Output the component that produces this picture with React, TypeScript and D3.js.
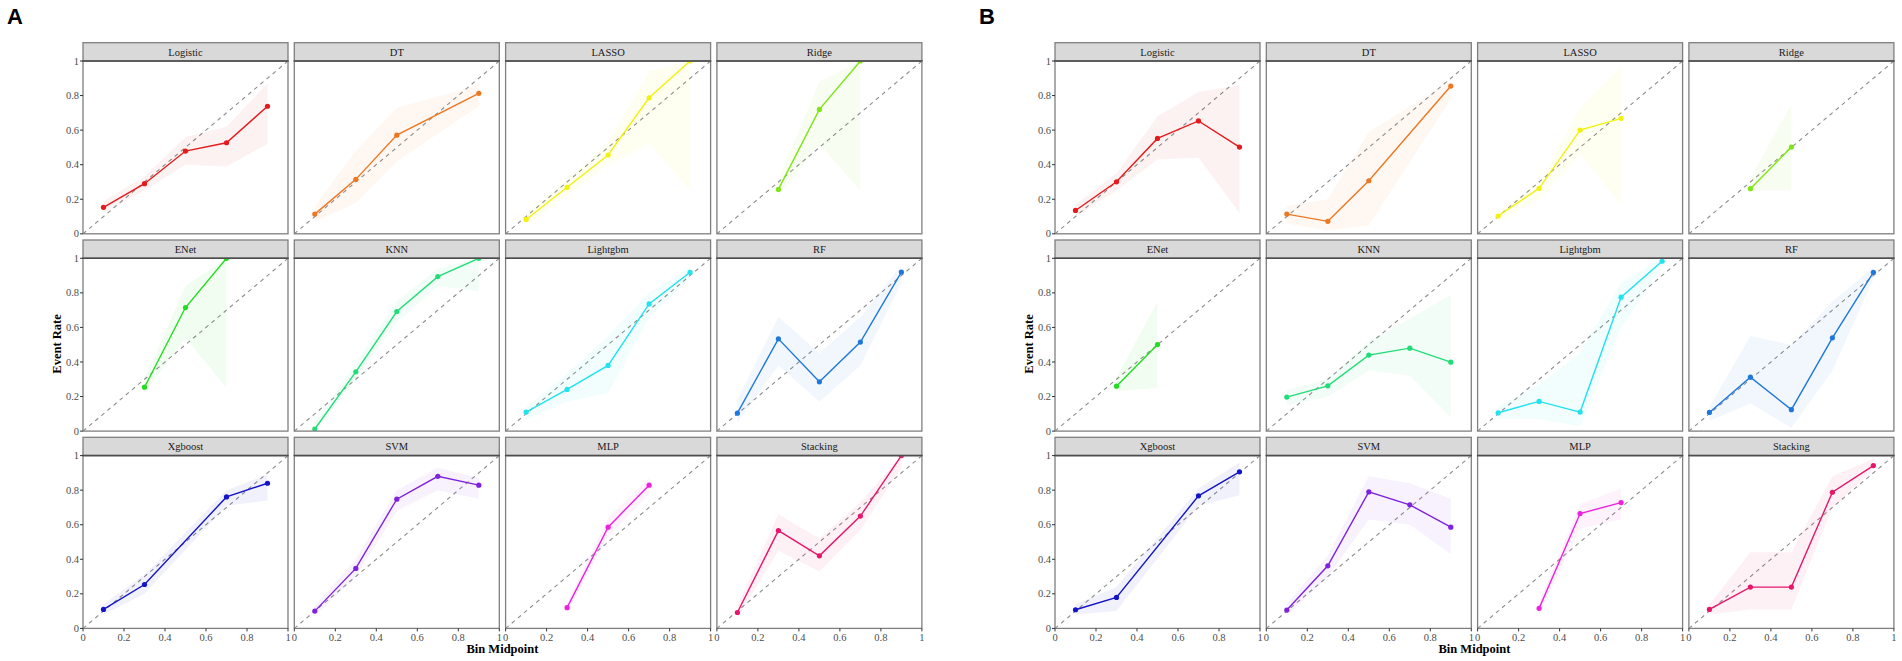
import React from "react";
import * as d3 from "d3";

const models = ["Logistic", "DT", "LASSO", "Ridge", "ENet", "KNN", "Lightgbm", "RF", "Xgboost", "SVM", "MLP", "Stacking"];
const colors = ["#E41A1C", "#EE7722", "#F2F20F", "#7FE517", "#22DD22", "#22DD77", "#22E2EE", "#1E78DC", "#1414C8", "#7F22DD", "#EE22DD", "#E6166B"];
const bins = [0.1, 0.3, 0.5, 0.7, 0.9];
const ticks = [0, 0.2, 0.4, 0.6, 0.8, 1];
const tickLabels = ["0", "0.2", "0.4", "0.6", "0.8", "1"];

type V = number | null;

// panel A: event rate per bin, ribbon low / high
const rateA: V[][] = [
  [0.153, 0.29, 0.479, 0.527, 0.738],
  [0.114, 0.315, 0.571, null, 0.813],
  [0.083, 0.269, 0.456, 0.787, 1.0],
  [null, 0.257, 0.72, 1.0, null],
  [null, 0.254, 0.715, 1.0, null],
  [0.012, 0.343, 0.692, 0.894, 1.0],
  [0.11, 0.241, 0.38, 0.736, 0.919],
  [0.104, 0.534, 0.285, 0.515, 0.92],
  [0.11, 0.254, null, 0.761, 0.84],
  [0.1, 0.347, 0.748, 0.88, 0.829],
  [null, 0.12, 0.586, 0.829, null],
  [0.092, 0.566, 0.42, 0.65, 1.0],
];
const lowA: V[][] = [
  [0.12, 0.25, 0.4, 0.39, 0.52],
  [0.07, 0.18, 0.42, null, 0.74],
  [0.05, 0.22, 0.4, 0.52, 0.25],
  [null, 0.22, 0.52, 0.25, null],
  [null, 0.22, 0.54, 0.25, null],
  [0.0, 0.3, 0.63, 0.84, 0.81],
  [0.07, 0.17, 0.22, 0.66, 0.88],
  [0.05, 0.38, 0.17, 0.38, 0.86],
  [0.08, 0.2, null, 0.71, 0.74],
  [0.07, 0.3, 0.68, 0.8, 0.75],
  [null, 0.09, 0.53, 0.78, null],
  [0.06, 0.45, 0.33, 0.57, 0.93],
];
const highA: V[][] = [
  [0.19, 0.33, 0.56, 0.62, 0.87],
  [0.16, 0.48, 0.73, null, 0.86],
  [0.12, 0.31, 0.53, 0.94, 1.0],
  [null, 0.31, 0.88, 1.0, null],
  [null, 0.3, 0.84, 1.0, null],
  [0.05, 0.39, 0.75, 0.94, 1.0],
  [0.14, 0.33, 0.55, 0.8, 0.95],
  [0.18, 0.66, 0.45, 0.66, 0.96],
  [0.14, 0.31, null, 0.8, 0.89],
  [0.13, 0.4, 0.8, 0.93, 0.87],
  [null, 0.15, 0.64, 0.87, null],
  [0.13, 0.66, 0.52, 0.73, 1.0],
];

// panel B
const rateB: V[][] = [
  [0.135, 0.301, 0.552, 0.653, 0.502],
  [0.114, 0.072, 0.307, null, 0.855],
  [0.103, 0.263, 0.6, 0.668, null],
  [null, 0.261, 0.502, null, null],
  [null, 0.26, 0.501, null, null],
  [0.197, 0.262, 0.44, 0.48, 0.399],
  [0.106, 0.172, 0.11, 0.775, 0.983],
  [0.108, 0.312, 0.124, 0.54, 0.919],
  [0.108, 0.179, null, 0.767, 0.906],
  [0.106, 0.362, 0.79, 0.715, 0.586],
  [null, 0.116, 0.665, 0.728, null],
  [0.11, 0.239, 0.239, 0.788, 0.942],
];
const lowB: V[][] = [
  [0.1, 0.25, 0.43, 0.44, 0.12],
  [0.06, 0.02, 0.05, null, 0.78],
  [0.07, 0.2, 0.46, 0.17, null],
  [null, 0.25, 0.25, null, null],
  [null, 0.23, 0.25, null, null],
  [0.15, 0.2, 0.35, 0.32, 0.08],
  [0.07, 0.07, 0.03, 0.6, 0.95],
  [0.06, 0.16, 0.02, 0.35, 0.88],
  [0.08, 0.1, null, 0.71, 0.77],
  [0.07, 0.3, 0.63, 0.6, 0.43],
  [null, 0.08, 0.58, 0.63, null],
  [0.08, 0.11, 0.11, 0.7, 0.92],
];
const highB: V[][] = [
  [0.17, 0.35, 0.68, 0.82, 0.86],
  [0.16, 0.2, 0.59, null, 0.88],
  [0.13, 0.29, 0.73, 0.97, null],
  [null, 0.32, 0.75, null, null],
  [null, 0.31, 0.75, null, null],
  [0.24, 0.3, 0.52, 0.65, 0.79],
  [0.14, 0.27, 0.45, 0.86, 1.0],
  [0.14, 0.55, 0.5, 0.75, 0.95],
  [0.14, 0.24, null, 0.81, 0.96],
  [0.14, 0.42, 0.88, 0.84, 0.75],
  [null, 0.15, 0.72, 0.81, null],
  [0.14, 0.44, 0.44, 0.88, 0.98],
];

const colW = 205;
const colStep = 211.3;
const stripH = 18.3;
const plotH = 172.8;
const rowTops = [42.7, 240, 437.3];
const serif = "'Liberation Serif', 'Times New Roman', serif";

interface PanelProps {
  left: number;
  label: string;
  rate: V[][];
  low: V[][];
  high: V[][];
}

function Facet({ i, left, rate, low, high }: { i: number; left: number; rate: V[]; low: V[]; high: V[] }) {
  const c = i % 4;
  const r = Math.floor(i / 4);
  const x0 = left + c * colStep;
  const top = rowTops[r] + stripH;
  const x = d3.scaleLinear().domain([0, 1]).range([x0, x0 + colW]);
  const y = d3.scaleLinear().domain([0, 1]).range([top + plotH, top]);
  const pts = bins.map((b, k) => ({ b, v: rate[k], lo: low[k], hi: high[k] })).filter((d) => d.v !== null);
  const band = pts.filter((d) => d.lo !== null && d.hi !== null);
  const area = d3.area<any>().x((d) => x(d.b)).y0((d) => y(d.lo)).y1((d) => y(d.hi));
  const line = d3.line<any>().x((d) => x(d.b)).y((d) => y(d.v));
  const clipId = `clip-${left}-${i}`;
  return (
    <g>
      <clipPath id={clipId}>
        <rect x={x0} y={top} width={colW} height={plotH} />
      </clipPath>
      <rect x={x0} y={rowTops[r]} width={colW} height={stripH} fill="#d9d9d9" stroke="#7f7f7f" strokeWidth={1.3} />
      <text x={x0 + colW / 2} y={rowTops[r] + stripH / 2 + 3.8} textAnchor="middle" fontFamily={serif} fontSize={10.5} fill="#1a1a1a">
        {models[i]}
      </text>
      <g clipPath={`url(#${clipId})`}>
        <line x1={x(0)} y1={y(0)} x2={x(1)} y2={y(1)} stroke="#8c8c8c" strokeWidth={1.1} strokeDasharray="4,4" />
        <path d={area(band) || ""} fill={colors[i]} fillOpacity={0.06} />
        <path d={line(pts) || ""} fill="none" stroke={colors[i]} strokeWidth={1.4} />
        {pts.map((d) => (
          <circle key={d.b} cx={x(d.b)} cy={y(d.v as number)} r={2.6} fill={colors[i]} />
        ))}
      </g>
      <rect x={x0} y={top} width={colW} height={plotH} fill="none" stroke="#7f7f7f" strokeWidth={1.3} />
      <line x1={x0 - 0.6} x2={x0 + colW + 0.6} y1={top} y2={top} stroke="#4d4d4d" strokeWidth={1.5} />
      {c === 0 &&
        ticks.map((t, k) => (
          <g key={t}>
            <line x1={x0 - 3} x2={x0} y1={y(t)} y2={y(t)} stroke="#333" strokeWidth={1} />
            <text x={x0 - 4} y={y(t) + 3.6} textAnchor="end" fontFamily={serif} fontSize={10.5} fill="#4d4d4d">
              {tickLabels[k]}
            </text>
          </g>
        ))}
      {r === 2 &&
        ticks.map((t, k) => (
          <g key={t}>
            <line x1={x(t)} x2={x(t)} y1={top + plotH} y2={top + plotH + 3} stroke="#333" strokeWidth={1} />
            <text x={x(t)} y={top + plotH + 12.5} textAnchor="middle" fontFamily={serif} fontSize={10.5} fill="#4d4d4d">
              {tickLabels[k]}
            </text>
          </g>
        ))}
    </g>
  );
}

function Panel({ left, label, rate, low, high }: PanelProps) {
  const right = left + 3 * colStep + colW;
  return (
    <g>
      <text x={left - 76} y={24} fontFamily="'Liberation Sans', Arial, sans-serif" fontWeight="bold" fontSize={22} fill="#000">
        {label}
      </text>
      {models.map((m, i) => (
        <Facet key={m} i={i} left={left} rate={rate[i]} low={low[i]} high={high[i]} />
      ))}
      <text
        transform={`translate(${left - 22},344) rotate(-90)`}
        textAnchor="middle"
        fontFamily={serif}
        fontWeight="bold"
        fontSize={12.5}
        fill="#000"
      >
        Event Rate
      </text>
      <text x={(left + right) / 2} y={653} textAnchor="middle" fontFamily={serif} fontWeight="bold" fontSize={12.5} fill="#000">
        Bin Midpoint
      </text>
    </g>
  );
}

export default function App() {
  return (
    <svg width={1902} height={661} style={{ position: "absolute", left: 0, top: 0, background: "#fff" }}>
      <rect width={1902} height={661} fill="#fff" />
      <Panel left={83} label="A" rate={rateA} low={lowA} high={highA} />
      <Panel left={1055} label="B" rate={rateB} low={lowB} high={highB} />
    </svg>
  );
}
